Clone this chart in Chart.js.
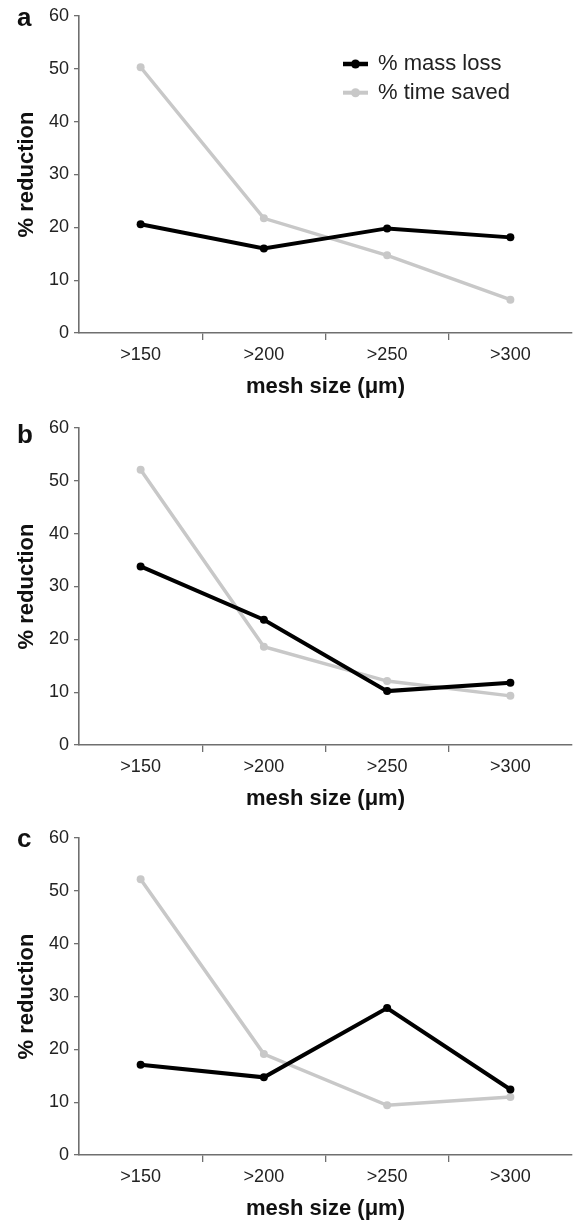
<!DOCTYPE html>
<html><head><meta charset="utf-8">
<script src="https://cdn.jsdelivr.net/npm/chart.js@4.4.1/dist/chart.umd.min.js"></script>
<style>
html,body{margin:0;padding:0;background:#fff;width:576px;height:1223px;overflow:hidden;}
canvas{position:absolute;left:0;}
</style></head><body>
<canvas id="ca" width="576" height="401" style="top:0px"></canvas>
<canvas id="cb" width="576" height="401" style="top:412px"></canvas>
<canvas id="cc" width="576" height="401" style="top:822px"></canvas>
<script>
const categories = ['>150', '>200', '>250', '>300'];
const seriesNames = ['% mass loss', '% time saved'];
const yTicks = [0, 10, 20, 30, 40, 50, 60];
const xTitle = 'mesh size (\u03bcm)';
const yTitle = '% reduction';
const panelLetters = ['a', 'b', 'c'];

const massLossA = [20.6, 16.0, 19.8, 18.1];
const timeSavedA = [50.3, 21.7, 14.7, 6.3];
const massLossB = [33.8, 23.7, 10.2, 11.8];
const timeSavedB = [52.1, 18.6, 12.1, 9.3];
const massLossC = [17.1, 14.7, 27.8, 12.4];
const timeSavedC = [52.2, 19.1, 9.4, 11.0];

const FONT = '"Liberation Sans", Arial, Helvetica, sans-serif';
const AXIS = '#6f6f6f';

const letterPlugin = {
  id: 'panelLetter',
  afterDraw(chart, args, opts) {
    const ctx = chart.ctx;
    ctx.save();
    ctx.fillStyle = '#111';
    ctx.font = 'bold 26px ' + FONT;
    ctx.textBaseline = 'alphabetic';
    ctx.textAlign = 'left';
    ctx.fillText(opts.text, opts.x, opts.y);
    ctx.restore();
  }
};

const insideLegend = {
  id: 'insideLegend',
  afterDatasetsDraw(chart, args, opts) {
    if (!opts.show) return;
    const ctx = chart.ctx;
    ctx.save();
    chart.data.datasets.forEach((ds, i) => {
      const y = opts.y + i * opts.gap;
      ctx.strokeStyle = ds.borderColor;
      ctx.lineWidth = ds.borderWidth + 0.5;
      ctx.beginPath();
      ctx.moveTo(opts.x, y);
      ctx.lineTo(opts.x + opts.w, y);
      ctx.stroke();
      ctx.fillStyle = ds.borderColor;
      ctx.beginPath();
      ctx.arc(opts.x + opts.w / 2, y, 4.5, 0, Math.PI * 2);
      ctx.fill();
      ctx.fillStyle = '#222';
      ctx.font = '22px ' + FONT;
      ctx.textBaseline = 'middle';
      ctx.textAlign = 'left';
      ctx.fillText(ds.label, opts.x + opts.w + 10, y);
    });
    ctx.restore();
  }
};

function makePanel(id, mass, time, letter, letterY, showLegend) {
  new Chart(document.getElementById(id), {
    type: 'line',
    data: {
      labels: categories,
      datasets: [
        { label: seriesNames[0], data: mass, borderColor: '#000000', backgroundColor: '#000000',
          borderWidth: 4, pointRadius: 4, pointBorderWidth: 0, pointBackgroundColor: '#000000', tension: 0, order: 1 },
        { label: seriesNames[1], data: time, borderColor: '#c8c8c8', backgroundColor: '#c8c8c8',
          borderWidth: 3.5, pointRadius: 4, pointBorderWidth: 0, pointBackgroundColor: '#c8c8c8', tension: 0, order: 2 }
      ]
    },
    options: {
      responsive: false,
      animation: false,
      devicePixelRatio: 1,
      layout: { padding: { left: 0, top: 16, right: 3, bottom: 1 } },
      plugins: {
        legend: { display: false },
        tooltip: { enabled: false },
        panelLetter: { text: letter, x: 17, y: letterY },
        insideLegend: { show: showLegend, x: 343, y: 64, gap: 28.7, w: 25 }
      },
      scales: {
        x: {
          type: 'category',
          offset: true,
          afterFit: s => { s.height = 67; },
          grid: {
            offset: true,
            drawOnChartArea: false,
            drawTicks: true,
            tickLength: 7,
            lineWidth: 1.3,
            color: ctx => (ctx.index === undefined || ctx.index === 0) ? 'rgba(0,0,0,0)' : AXIS
          },
          border: { display: true, color: AXIS, width: 1.6 },
          ticks: { color: '#222', font: { family: FONT, size: 18 }, padding: 4, maxRotation: 0 },
          title: { display: true, text: xTitle, color: '#111',
                   font: { family: FONT, size: 22, weight: 'bold' }, padding: { top: 0, bottom: 0 } }
        },
        y: {
          min: 0, max: 60,
          afterFit: s => { s.width = 79; },
          afterBuildTicks: s => { s.ticks = yTicks.map(v => ({ value: v })); },
          grid: { drawOnChartArea: false, drawTicks: true, tickLength: 5, lineWidth: 1.3, color: AXIS },
          border: { display: true, color: AXIS, width: 1.6 },
          ticks: { color: '#222', font: { family: FONT, size: 18 }, padding: 5 },
          title: { display: true, text: yTitle, color: '#111',
                   font: { family: FONT, size: 22, weight: 'bold' }, padding: { top: 14, bottom: 0 } }
        }
      }
    },
    plugins: [letterPlugin, insideLegend]
  });
}

makePanel('ca', massLossA, timeSavedA, panelLetters[0], 26, true);
makePanel('cb', massLossB, timeSavedB, panelLetters[1], 31, false);
makePanel('cc', massLossC, timeSavedC, panelLetters[2], 25, false);
</script>
</body></html>
